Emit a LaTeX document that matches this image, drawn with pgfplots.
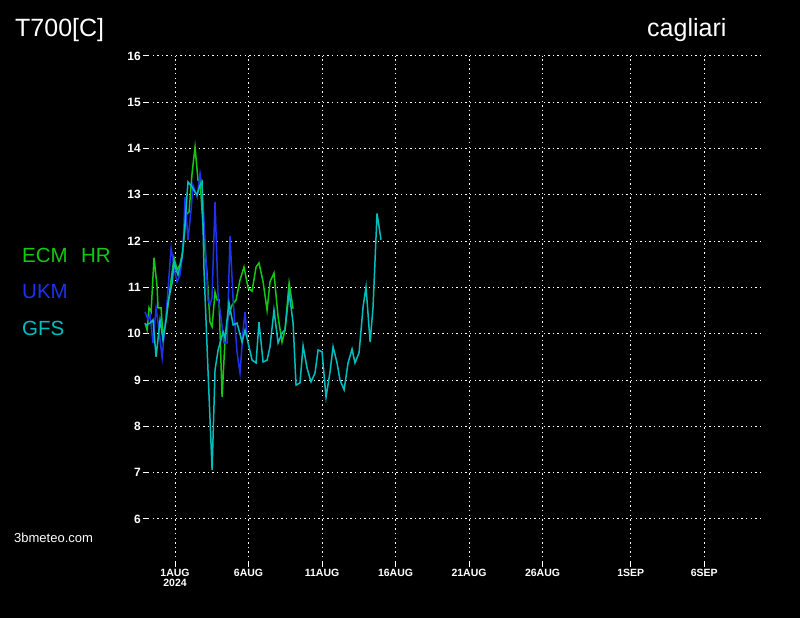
\documentclass[border=0pt]{standalone}
\usepackage{fontspec}
\setmainfont{Liberation Sans}
\usepackage{pgfplots}
\pgfplotsset{compat=1.18}
\definecolor{ecm}{RGB}{20,200,20}
\definecolor{ukm}{RGB}{30,50,235}
\definecolor{gfs}{RGB}{0,190,190}
\begin{document}
\begin{tikzpicture}[x=1pt,y=1pt]
\fill[black] (0,0) rectangle (800,618);
\begin{axis}[
  at={(148pt,56pt)}, anchor=south west,
  x=14.7pt, y=46.3pt,
  xmin=-1.84, xmax=40, ymin=5.07, ymax=16,
  clip=false,
  axis line style={draw=none},
  grid=major,
  grid style={white, line width=0.9pt, dash pattern=on 1.3pt off 3.3pt},
  tick style={white, line width=0.9pt},
  tick align=outside,
  major tick length=5pt,
  xtick pos=bottom, ytick pos=left,
  ytick={6,7,8,9,10,11,12,13,14,15,16},
  yticklabels={6,7,8,9,10,11,12,13,14,15,16},
  xtick={0,5,10,15,20,25,31,36},
  xticklabels={{1AUG\\[-1pt]2024},6AUG,11AUG,16AUG,21AUG,26AUG,1SEP,6SEP},
  xticklabel style={align=center, font=\bfseries\fontsize{10.5}{11}\selectfont, text=white, inner sep=2pt, anchor=north},
  yticklabel style={font=\bfseries\fontsize{12}{13}\selectfont, text=white, inner sep=2pt},
  /pgf/number format/assume math mode=true,
]
\addplot[ecm, line width=1.5pt] coordinates {
(-2.04,10.23) (-1.90,10.08) (-1.77,10.56) (-1.63,10.47) (-1.43,11.64) (-1.22,11.01)
(-1.16,10.56) (-0.95,10.56) (-0.82,9.93) (-0.61,10.30) (-0.48,10.62) (-0.27,11.16)
(-0.07,11.64) (0.14,11.38) (0.34,11.49) (0.54,11.81) (0.75,12.57) (0.95,12.63)
(1.16,13.47) (1.36,14.03) (1.56,13.32) (1.70,13.32) (1.90,12.35) (2.18,11.27)
(2.38,10.25) (2.52,10.15) (2.72,10.90) (2.86,10.73) (2.99,10.73) (3.20,8.63)
(3.40,9.87) (3.61,10.36) (3.88,10.62) (4.15,10.73) (4.42,11.16) (4.69,11.44)
(4.97,10.99) (5.24,10.92) (5.51,11.44) (5.71,11.53) (5.99,11.12) (6.26,10.51)
(6.46,11.12) (6.73,11.31) (7.01,10.36) (7.28,9.82) (7.48,10.08) (7.76,11.10)
(8.03,10.54)
};
\addplot[ukm, line width=1.5pt] coordinates {
(-2.04,10.47) (-1.84,10.30) (-1.70,10.41) (-1.50,9.80) (-1.29,10.56) (-1.09,10.08)
(-0.88,9.48) (-0.75,9.93) (-0.54,10.69) (-0.27,11.85) (0.00,11.31) (0.14,11.12)
(0.34,11.27) (0.54,11.81) (0.68,12.95) (0.88,12.03) (1.09,12.67) (1.22,13.21)
(1.50,12.95) (1.70,13.47) (1.84,13.17) (2.04,12.03) (2.24,10.73) (2.38,10.62)
(2.52,10.79) (2.72,12.85) (2.93,10.79) (3.13,10.34) (3.33,9.80) (3.54,9.80)
(3.74,12.11) (3.95,10.73) (4.22,9.59) (4.42,9.15) (4.63,10.08) (4.76,10.47)
(4.90,9.93)
};
\addplot[gfs, line width=1.5pt] coordinates {
(-2.04,10.19) (-1.84,10.21) (-1.70,10.23) (-1.50,10.30) (-1.29,9.50) (-1.02,10.30)
(-0.82,9.87) (-0.61,10.30) (-0.48,10.67) (-0.20,11.10) (-0.07,11.55) (0.07,11.38)
(0.20,11.27) (0.48,11.66) (0.68,12.39) (0.88,13.28) (1.16,13.17) (1.36,13.06)
(1.50,13.00) (1.70,13.21) (1.84,13.28) (1.97,11.38) (2.24,9.22) (2.52,7.06)
(2.72,9.22) (2.93,9.65) (3.27,10.04) (3.40,9.91) (3.67,10.67) (3.95,10.19)
(4.22,10.23) (4.56,9.82) (4.76,10.08) (4.97,9.80) (5.24,9.43) (5.51,9.37)
(5.71,10.25) (5.99,9.39) (6.26,9.43) (6.46,9.72) (6.73,10.51) (7.01,9.80)
(7.28,10.02) (7.48,10.08) (7.76,10.90) (8.03,10.23) (8.23,8.89) (8.50,8.94)
(8.71,9.74) (8.98,9.26) (9.25,8.96) (9.52,9.15) (9.73,9.65) (10.00,9.61)
(10.27,8.63) (10.54,9.17) (10.75,9.72) (11.02,9.37) (11.22,9.00) (11.50,8.79)
(11.77,9.37) (12.04,9.67) (12.24,9.37) (12.52,9.59) (12.79,10.58) (12.99,11.01)
(13.27,9.82) (13.47,10.58) (13.74,12.60) (14.01,12.03)
};
\end{axis}
\node[anchor=west, text=white, font=\fontsize{25}{28}\selectfont, inner sep=0pt] at (15,588) {T700[C]};
\node[anchor=west, text=white, font=\fontsize{25}{28}\selectfont, inner sep=0pt] at (647,588) {cagliari};
\node[anchor=west, text=ecm, font=\fontsize{20.5}{24}\selectfont, inner sep=0pt] at (22,363) {ECM\hspace{0.65em}HR};
\node[anchor=west, text=ukm, font=\fontsize{20.5}{24}\selectfont, inner sep=0pt] at (22,326) {UKM};
\node[anchor=west, text=gfs, font=\fontsize{20.5}{24}\selectfont, inner sep=0pt] at (22,290) {GFS};
\node[anchor=west, text=white, font=\fontsize{13}{15}\selectfont, inner sep=0pt] at (14,80) {3bmeteo.com};
\end{tikzpicture}
\end{document}
